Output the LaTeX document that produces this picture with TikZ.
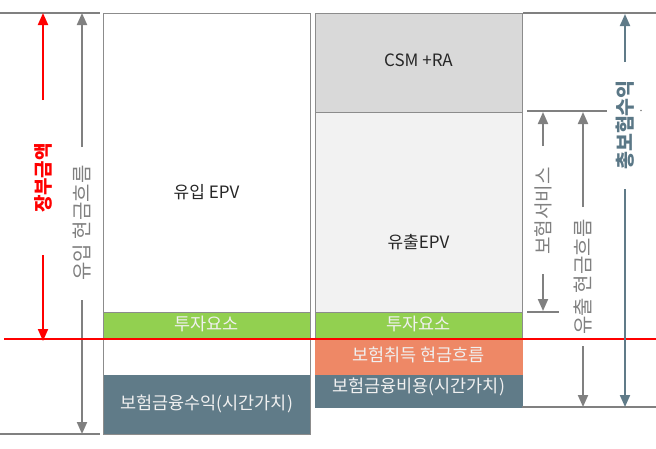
\documentclass[tikz,border=0pt]{standalone}
\usepackage{fontspec}
\setmainfont{Noto Sans CJK KR}
\usetikzlibrary{arrows.meta}
\definecolor{edgegray}{HTML}{8C8C8C}
\definecolor{dimgray}{HTML}{808080}
\definecolor{slate}{HTML}{607B88}
\definecolor{slatetext}{HTML}{5A7786}
\definecolor{leaf}{HTML}{92D050}
\definecolor{coral}{HTML}{EE8866}
\definecolor{csmgray}{HTML}{D9D9D9}
\definecolor{palegray}{HTML}{F2F2F2}
\begin{document}
\begin{tikzpicture}[x=1pt,y=-1pt,
  band/.style={draw=edgegray,line width=0.9pt,minimum width=207pt,inner sep=0pt,outer sep=0pt},
  label/.style={font=\fontsize{17}{20}\selectfont,text=black!85,inner sep=0pt},
  whitelabel/.style={font=\fontsize{17.5}{20}\selectfont,text=white!94!black,inner sep=0pt},
  vlabel/.style={font=\fontsize{20}{24}\selectfont,rotate=90,inner sep=0pt},
  guide/.style={dimgray,line width=1.6pt},
  dimarrow/.style={line width=2pt,-{Triangle[length=12pt,width=10pt]}},
]
\useasboundingbox (0,0) rectangle (656,448);

% ---- left column: inflows ----
\node[band,minimum height=421pt] (lcol) at (206.5,223.5) {};
\node[band,fill=leaf,minimum height=26pt] (lgreen) at (206.5,325) {};
\node[band,fill=slate,draw=slate,minimum height=59pt] (lslate) at (206.5,404.5) {};
\draw[edgegray,line width=0.9pt] (lcol.north west) rectangle (lcol.south east);
\node[label] (inepv) at (206.5,192) {유입 EPV};
\node[whitelabel] (linv) at (206.5,324) {투자요소};
\node[whitelabel] (lfin) at (206.5,404) {보험금융수익(시간가치)};

% ---- right column: outflows ----
\node[band,fill=csmgray,minimum height=99pt] (csm) at (418.5,62.5) {};
\node[band,fill=palegray,minimum height=200pt] (outepv) at (418.5,212) {};
\node[band,fill=leaf,minimum height=26pt] (rgreen) at (418.5,325) {};
\node[band,fill=coral,draw=coral,minimum height=37pt] (acq) at (418.5,356.5) {};
\node[band,fill=slate,draw=slate,minimum height=32pt] (rslate) at (418.5,391) {};
\node[label] (csmtxt) at (418.5,60) {CSM +RA};
\node[label] (outtxt) at (418.5,242) {유출EPV};
\node[whitelabel] (rinv) at (418.5,324) {투자요소};
\node[whitelabel] (acqtxt) at (418.5,355) {보험취득 현금흐름};
\node[whitelabel] (rfin) at (418.5,387) {보험금융비용(시간가치)};

% ---- left dimension marks ----
\coordinate (lt0) at (0,13);   \coordinate (lt1) at (100,13);
\coordinate (lb0) at (0,434);  \coordinate (lb1) at (100,434);
\draw[guide] (lt0) -- (lt1);
\draw[guide] (lb0) -- (lb1);

\coordinate (ra0) at (43,100); \coordinate (ra1) at (43,13);
\coordinate (rb0) at (43,255); \coordinate (rb1) at (43,341);
\draw[dimarrow,red] (ra0) -- (ra1);
\draw[dimarrow,red] (rb0) -- (rb1);
\node[vlabel,text=red,font=\fontsize{19}{22}\selectfont\bfseries] (book) at (43,178) {장부금액};

\coordinate (ga0) at (82,147); \coordinate (ga1) at (82,13);
\coordinate (gb0) at (82,300); \coordinate (gb1) at (82,434);
\draw[dimarrow,dimgray] (ga0) -- (ga1);
\draw[dimarrow,dimgray] (gb0) -- (gb1);
\node[vlabel,text=dimgray] (incash) at (82,223) {유입 현금흐름};

% ---- boundary line ----
\coordinate (bl0) at (4,339); \coordinate (bl1) at (656,339);
\draw[red,line width=1.5pt] (bl0) -- (bl1);

% ---- right dimension marks ----
\coordinate (rt0) at (523,13);  \coordinate (rt1) at (656,13);
\coordinate (rbt0) at (522,407); \coordinate (rbt1) at (656,407);
\coordinate (rm0) at (527,111); \coordinate (rm1) at (607,111);
\coordinate (rg0) at (527,312); \coordinate (rg1) at (559,312);
\draw[guide] (rt0) -- (rt1);
\draw[guide] (rbt0) -- (rbt1);
\draw[guide] (rm0) -- (rm1);
\draw[guide] (rg0) -- (rg1);

\coordinate (sa0) at (543,146); \coordinate (sa1) at (543,112);
\coordinate (sb0) at (543,274); \coordinate (sb1) at (543,311);
\draw[dimarrow,dimgray] (sa0) -- (sa1);
\draw[dimarrow,dimgray] (sb0) -- (sb1);
\node[vlabel,text=dimgray,font=\fontsize{19}{22}\selectfont] (service) at (543,211) {보험서비스};

\coordinate (oa0) at (583,207); \coordinate (oa1) at (583,112);
\coordinate (ob0) at (583,346); \coordinate (ob1) at (583,407);
\draw[dimarrow,dimgray] (oa0) -- (oa1);
\draw[dimarrow,dimgray] (ob0) -- (ob1);
\node[vlabel,text=dimgray] (outcash) at (583,277) {유출 현금흐름};

\coordinate (ta0) at (625,62);  \coordinate (ta1) at (625,14);
\coordinate (tb0) at (625,189); \coordinate (tb1) at (625,407);
\draw[dimarrow,slate] (ta0) -- (ta1);
\draw[dimarrow,slate] (tb0) -- (tb1);
\node[vlabel,text=slatetext,font=\fontsize{19.5}{23}\selectfont\bfseries] (revenue) at (625,125) {총보험수익};
\fill[dimgray] (641,110.5) circle (0.8pt);
\end{tikzpicture}
\end{document}
